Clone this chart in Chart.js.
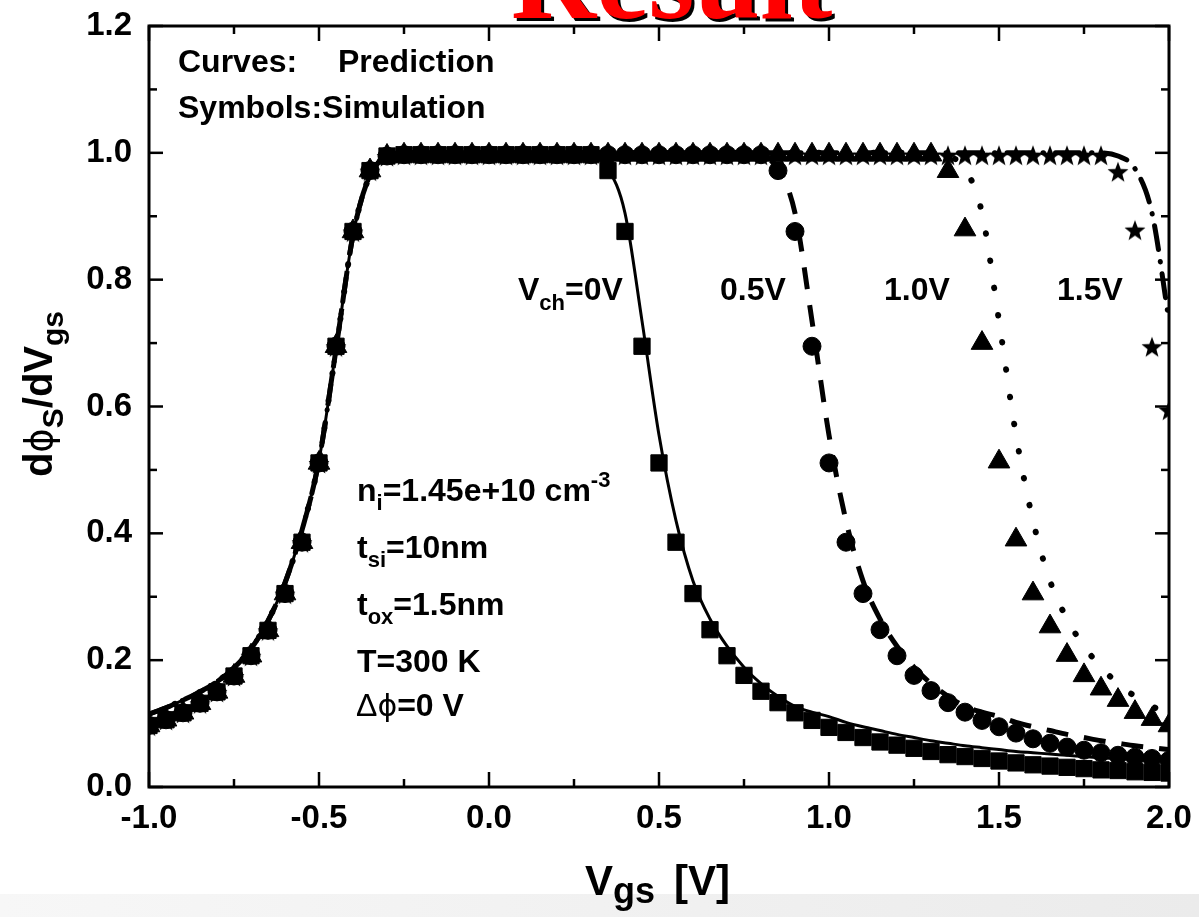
<!DOCTYPE html>
<html><head><meta charset="utf-8">
<script src="https://cdn.jsdelivr.net/npm/chart.js@4.4.1/dist/chart.umd.min.js"></script>
<style>
html,body{margin:0;padding:0;background:#fff;}
#wrap{position:relative;width:1199px;height:917px;overflow:hidden;background:#fff;}
#bg,#c,#ov{position:absolute;left:0;top:0;}
#ov{pointer-events:none;}
</style></head><body>
<div id="wrap">
<svg id="bg" width="1199" height="917">
  <defs><linearGradient id="band" x1="0" y1="0" x2="1" y2="0">
    <stop offset="0" stop-color="#f7f7f7"/><stop offset="1" stop-color="#ebebeb"/></linearGradient></defs>
  <rect x="0" y="894" width="1199" height="23" fill="url(#band)"/>
</svg>
<canvas id="c" width="1199" height="917"></canvas>
<svg id="ov" width="1199" height="917" font-family="Liberation Sans, Arial, sans-serif" font-weight="bold" fill="#000">
  <text x="514" y="21" font-family="Liberation Serif, Times New Roman, serif" font-size="118" fill="#000">Result</text>
  <text x="511" y="18" font-family="Liberation Serif, Times New Roman, serif" font-size="118" fill="#ff0000">Result</text>
  <text x="178" y="72" font-size="32">Curves:</text>
  <text x="338" y="72" font-size="32">Prediction</text>
  <text x="178" y="118" font-size="32">Symbols:Simulation</text>
  <text x="518" y="300" font-size="32">V<tspan font-size="22" dy="10">ch</tspan><tspan dy="-10">=0V</tspan></text>
  <text x="720" y="300" font-size="32">0.5V</text>
  <text x="884" y="300" font-size="32">1.0V</text>
  <text x="1057" y="300" font-size="32">1.5V</text>
  <text x="357" y="501" font-size="32">n<tspan font-size="22" dy="9">i</tspan><tspan dy="-9">=1.45e+10 cm</tspan><tspan font-size="22" dy="-14">-3</tspan></text>
  <text x="357" y="558" font-size="32">t<tspan font-size="22" dy="9">si</tspan><tspan dy="-9">=10nm</tspan></text>
  <text x="357" y="615" font-size="32">t<tspan font-size="22" dy="9">ox</tspan><tspan dy="-9">=1.5nm</tspan></text>
  <text x="357" y="672" font-size="32">T=300 K</text>
  <text x="356" y="716" font-size="32"><tspan font-weight="normal">Δ</tspan><tspan font-family="DejaVu Sans" font-weight="normal" font-size="30">ϕ</tspan>=0 V</text>
  <text transform="translate(52,394) rotate(-90)" text-anchor="middle" font-size="40">d<tspan font-family="DejaVu Sans" font-weight="normal" font-size="37">ϕ</tspan><tspan font-size="30" dy="11">S</tspan><tspan dy="-11">/dV</tspan><tspan font-size="30" dy="11">gs</tspan></text>
  <text x="585" y="895" font-size="42">V<tspan font-size="36" dy="8">gs</tspan><tspan x="674" dy="-8">[V]</tspan></text>
</svg>
</div>
<script>
// ---- data ----
const vgs = [-1.00,-0.95,-0.90,-0.85,-0.80,-0.75,-0.70,-0.65,-0.60,-0.55,-0.50,-0.45,-0.40,-0.35,-0.30,
  -0.25,-0.20,-0.15,-0.10,-0.05,0.00,0.05,0.10,0.15,0.20,0.25,0.30,0.35,0.40,0.45,0.50,0.55,0.60,0.65,0.70,
  0.75,0.80,0.85,0.90,0.95,1.00,1.05,1.10,1.15,1.20,1.25,1.30,1.35,1.40,1.45,1.50,1.55,1.60,1.65,1.70,1.75,
  1.80,1.85,1.90,1.95,2.00];

// Simulation (symbols)
const simVch0 = [0.097,0.106,0.117,0.132,0.150,0.175,0.207,0.247,0.305,0.386,0.511,0.695,0.876,0.972,0.995,
  0.997,0.997,0.997,0.997,0.997,0.997,0.997,0.997,0.997,0.997,0.997,0.997,
  0.972,0.876,0.695,0.511,0.386,0.305,0.248,0.207,0.176,0.151,0.133,0.117,0.105,0.094,0.086,0.078,0.071,0.066,
  0.061,0.056,0.051,0.048,0.045,0.041,0.038,0.035,0.033,0.031,0.029,0.027,0.026,0.024,0.023,0.022];
const simVch05 = [0.097,0.106,0.117,0.132,0.150,0.175,0.207,0.247,0.305,0.386,0.511,0.695,0.876,0.972,0.995,
  0.997,0.997,0.997,0.997,0.997,0.997,0.997,0.997,0.997,0.997,0.997,0.997,0.997,0.997,0.997,0.997,0.997,0.997,
  0.997,0.997,0.997,0.997,
  0.972,0.876,0.695,0.511,0.386,0.305,0.248,0.207,0.176,0.152,0.133,0.118,0.105,0.095,0.085,0.076,0.069,0.063,
  0.058,0.054,0.050,0.047,0.045,0.042];
const simVch10 = [0.097,0.106,0.117,0.132,0.150,0.175,0.207,0.247,0.305,0.386,0.511,0.695,0.876,0.972,0.995,
  0.997,0.997,0.997,0.997,0.997,0.997,0.997,0.997,0.997,0.997,0.997,0.997,0.997,0.997,0.997,0.997,0.997,0.997,
  0.997,0.997,0.997,0.997,0.997,0.997,0.997,0.997,0.997,0.997,0.997,0.997,0.997,0.997,
  0.971,0.879,0.700,0.513,0.390,0.305,0.253,0.208,0.176,0.155,0.137,0.118,0.107,0.097];
const simVch15 = [0.097,0.106,0.117,0.132,0.150,0.175,0.207,0.247,0.305,0.386,0.511,0.695,0.876,0.972,0.995,
  0.997,0.997,0.997,0.997,0.997,0.997,0.997,0.997,0.997,0.997,0.997,0.997,0.997,0.997,0.997,0.997,0.997,0.997,
  0.997,0.997,0.997,0.997,0.997,0.997,0.997,0.997,0.997,0.997,0.997,0.997,0.997,0.997,0.997,0.997,0.997,0.997,
  0.997,0.997,0.997,0.997,0.997,0.997,
  0.971,0.879,0.695,0.595];

// Prediction (curves)
const predVch0 = [0.115,0.125,0.137,0.150,0.166,0.188,0.218,0.262,0.322,0.405,0.515,0.690,0.870,0.965,0.993,
  1.0,1.0,1.0,1.0,1.0,1.0,1.0,1.0,1.0,1.0,1.0,
  0.995,0.975,0.905,0.735,0.555,0.420,0.325,0.265,0.222,0.189,0.163,0.143,0.127,0.118,0.111,0.102,0.095,0.089,
  0.083,0.078,0.073,0.069,0.065,0.062,0.059,0.056,0.054,0.052,0.050,0.048,0.046,0.045,0.043,0.042,0.041];
const predVch05 = [0.115,0.125,0.137,0.150,0.166,0.188,0.218,0.262,0.322,0.405,0.515,0.690,0.870,0.965,0.993,
  1.0,1.0,1.0,1.0,1.0,1.0,1.0,1.0,1.0,1.0,1.0,1.0,1.0,1.0,1.0,1.0,1.0,1.0,1.0,1.0,1.0,
  0.995,0.975,0.905,0.735,0.555,0.420,0.325,0.265,0.222,0.189,0.163,0.143,0.127,0.118,0.111,0.102,0.095,0.089,
  0.083,0.078,0.073,0.069,0.065,0.062,0.059];
const predVch10 = [0.115,0.125,0.137,0.150,0.166,0.188,0.218,0.262,0.322,0.405,0.515,0.690,0.870,0.965,0.993,
  1.0,1.0,1.0,1.0,1.0,1.0,1.0,1.0,1.0,1.0,1.0,1.0,1.0,1.0,1.0,1.0,1.0,1.0,1.0,1.0,1.0,1.0,1.0,1.0,1.0,1.0,
  1.0,1.0,1.0,1.0,1.0,1.0,
  0.995,0.975,0.905,0.735,0.555,0.420,0.325,0.265,0.222,0.189,0.163,0.143,0.127,0.118,0.111];
const predVch15 = [0.115,0.125,0.137,0.150,0.166,0.188,0.218,0.262,0.322,0.405,0.515,0.690,0.870,0.965,0.993,
  1.0,1.0,1.0,1.0,1.0,1.0,1.0,1.0,1.0,1.0,1.0,1.0,1.0,1.0,1.0,1.0,1.0,1.0,1.0,1.0,1.0,1.0,1.0,1.0,1.0,1.0,
  1.0,1.0,1.0,1.0,1.0,1.0,1.0,1.0,1.0,1.0,1.0,1.0,1.0,1.0,1.0,1.0,
  0.995,0.975,0.905,0.735,0.555];

// Axis ticks
const xTickLabels = [-1.0,-0.5,0.0,0.5,1.0,1.5,2.0];
const xMinorTicks = [-0.75,-0.25,0.25,0.75,1.25,1.75];
const yTickLabels = [0.0,0.2,0.4,0.6,0.8,1.0,1.2];
const yMinorTicks = [0.1,0.3,0.5,0.7,0.9,1.1];

// ---- rendering ----
const pts = arr => vgs.map((x,i)=>({x:x, y:arr[i]}));

function makeStar(r){
  const s = Math.ceil(2*r+2);
  const c = document.createElement('canvas'); c.width = s; c.height = s;
  const g = c.getContext('2d'); g.fillStyle = '#000'; g.beginPath();
  for (let k=0;k<10;k++){
    const rad = (k%2===0) ? r : r*0.42;
    const ang = -Math.PI/2 + k*Math.PI/5;
    const px = s/2 + rad*Math.cos(ang), py = s/2 + 1.5 + rad*Math.sin(ang);
    if (k===0) g.moveTo(px,py); else g.lineTo(px,py);
  }
  g.closePath(); g.fill();
  return c;
}
const star = makeStar(11);

const FONT = '"Liberation Sans", Arial, sans-serif';

const framePlugin = {
  id:'frame',
  afterDatasetsDraw(chart){
    const {ctx, chartArea:a, scales} = chart;
    const x = scales.x, y = scales.y;
    ctx.save();
    ctx.strokeStyle = '#000'; ctx.lineCap = 'butt';
    const seg = (x1,y1,x2,y2)=>{ctx.beginPath();ctx.moveTo(x1,y1);ctx.lineTo(x2,y2);ctx.stroke();};
    ctx.lineWidth = 2.5;
    const xt = (list,len)=>list.forEach(v=>{const p=x.getPixelForValue(v); seg(p,a.bottom,p,a.bottom-len); seg(p,a.top,p,a.top+len);});
    const yt = (list,len)=>list.forEach(v=>{const p=y.getPixelForValue(v); seg(a.left,p,a.left+len,p); seg(a.right,p,a.right-len,p);});
    xt(xTickLabels,15); xt(xMinorTicks,8);
    yt(yTickLabels,14); yt(yMinorTicks,8);
    ctx.lineWidth = 3;
    ctx.strokeRect(a.left, a.top, a.right-a.left, a.bottom-a.top);
    ctx.restore();
  }
};

const marker = (data, style, r, order) => ({
  data: pts(data), showLine:false, pointStyle: style, pointRadius: r, pointHoverRadius: r,
  pointBackgroundColor:'#000', pointBorderColor:'#000', pointBorderWidth:1, clip:0, order: order
});
const curve = (data, dash, width, cap) => ({
  data: pts(data), showLine:true, pointRadius:0, borderColor:'#000', borderWidth:width,
  borderDash: dash, borderCapStyle: cap, cubicInterpolationMode:'monotone', fill:false, clip:0, order:0
});

new Chart(document.getElementById('c'), {
  type:'scatter',
  data:{ datasets:[
    curve(predVch0, [], 3, 'butt'),
    curve(predVch05, [22,16], 5, 'butt'),
    curve(predVch10, [0.5,27], 6, 'round'),
    curve(predVch15, [24,12,0.5,12], 5, 'round'),
    marker(simVch0, 'rect', 11.5, 1),
    marker(simVch10, 'triangle', 12.5, 2),
    marker(simVch05, 'circle', 9, 3),
    marker(simVch15, star, 11, 4)
  ]},
  options:{
    responsive:false, animation:false, devicePixelRatio:1,
    layout:{ padding:{left:0, right:30, top:26, bottom:0} },
    plugins:{ legend:{display:false}, tooltip:{enabled:false}, title:{display:false} },
    scales:{
      x:{ type:'linear', min:-1, max:2,
        grid:{display:false, drawTicks:false}, border:{display:false},
        afterBuildTicks(s){ s.ticks = xTickLabels.map(v=>({value:v})); },
        afterFit(s){ s.height = 130; s.paddingLeft = 0; s.paddingRight = 0; },
        ticks:{ color:'#000', padding:12, font:{family:FONT, size:33, weight:'bold'},
          callback:(v)=>Number(v).toFixed(1), maxRotation:0, autoSkip:false }
      },
      y:{ type:'linear', min:0, max:1.2,
        grid:{display:false, drawTicks:false}, border:{display:false},
        afterBuildTicks(s){ s.ticks = yTickLabels.map(v=>({value:v})); },
        afterFit(s){ s.width = 149; s.paddingTop = 0; s.paddingBottom = 0; },
        ticks:{ color:'#000', padding:17, font:{family:FONT, size:33, weight:'bold'},
          callback:(v)=>Number(v).toFixed(1), autoSkip:false }
      }
    }
  },
  plugins:[framePlugin]
});
</script>
</body></html>
